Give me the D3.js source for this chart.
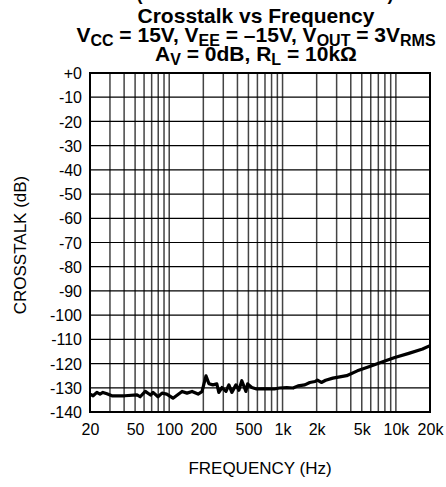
<!DOCTYPE html>
<html><head><meta charset="utf-8">
<script src="https://cdn.jsdelivr.net/npm/d3@7"></script>
<style>
html,body{margin:0;padding:0;background:#fff;}
svg{display:block;font-family:Arial,"Liberation Sans",Helvetica,sans-serif;}
</style></head>
<body>
<svg id="c" width="446" height="487"></svg>
<script>
// ---- data ----
const freqHz = [20,21.3,23,24.5,26,28.2,31.2,40.6,52,55.4,61.5,68.4,72,79.6,86.5,95.1,108,129.8,143.5,159,179.7,194.6,
  211,224,243,263,274,292,317,336,357,388,412,437,475,492,535,590,692,846,940,1089,1237,1370,1572,1740,1935,2029,2200,2400,2780,
  3676,4570,5780,7450,9780,13000,17200,20000];
const crosstalkDb = [-132.6,-133.3,-131.9,-132.6,-131.9,-132.5,-133.3,-133.3,-132.9,-133.7,-131.5,-133,-131.9,-133.7,-132.2,-132.6,-134.3,-131.5,-132.2,-131.5,-132.6,-131.6,
  -125.1,-128.3,-128.8,-128.4,-131.9,-129.9,-131.5,-128.8,-131.9,-128.8,-131,-127.1,-131.5,-128.4,-129.9,-130.5,-130.4,-130.5,-130.1,-129.9,-130.1,-129.2,-128.8,-127.8,-127.4,-126.8,-127.8,-126.9,-126,
  -125,-123,-121.3,-119.5,-117.5,-115.8,-114,-112.6];
const xTickValues = [20,50,100,200,500,1000,2000,5000,10000,20000];
const xTickLabels = ["20","50","100","200","500","1k","2k","5k","10k","20k"];
const yTickValues = [0,-10,-20,-30,-40,-50,-60,-70,-80,-90,-100,-110,-120,-130,-140];
const yTickLabels = ["+0","-10","-20","-30","-40","-50","-60","-70","-80","-90","-100","-110","-120","-130","-140"];
const titleTop = "(Performance Characteristics)";
const titleMain = "Crosstalk vs Frequency";
const xAxisTitle = "FREQUENCY (Hz)";
const yAxisTitle = "CROSSTALK (dB)";

// ---- layout ----
const L = 90, R = 430, T = 73, B = 412;
const svg = d3.select("#c");
const x = d3.scaleLog().domain([20,20000]).range([L,R]);
const y = d3.scaleLinear().domain([-140,0]).range([B,T]);

// vertical grid lines (1..9 x decade)
const vGrid = [];
[10,100,1000,10000].forEach(d=>{for(let k=1;k<10;k++){const v=d*k; if(v>20 && v<20000) vGrid.push(v);}});
svg.append("g").selectAll("line").data(vGrid).join("line")
  .attr("x1",d=>x(d)).attr("x2",d=>x(d)).attr("y1",T).attr("y2",B)
  .attr("stroke","#444").attr("stroke-width",1.5);
// horizontal grid
svg.append("g").selectAll("line").data(yTickValues.filter(v=>v>-140&&v<0)).join("line")
  .attr("x1",L).attr("x2",R).attr("y1",d=>y(d)).attr("y2",d=>y(d))
  .attr("stroke","#000").attr("stroke-width",1.2);

// axes (labels only)
const xAxis = d3.axisBottom(x).tickValues(xTickValues).tickSize(0).tickPadding(0)
  .tickFormat((d,i)=>xTickLabels[i]);
const gx = svg.append("g").attr("transform",`translate(0,${B})`).call(xAxis);
gx.select(".domain").remove();
gx.selectAll("text").attr("dy",null).attr("y",23).attr("font-size",16).attr("fill","#000").attr("font-family","Arial, 'Liberation Sans', sans-serif");

const yAxis = d3.axisLeft(y).tickValues(yTickValues).tickSize(0).tickPadding(8)
  .tickFormat((d,i)=>yTickLabels[i]);
const gy = svg.append("g").attr("transform",`translate(${L},0)`).call(yAxis);
gy.select(".domain").remove();
gy.selectAll("text").attr("dy","0.35em").attr("font-size",16).attr("fill","#000").attr("font-family","Arial, 'Liberation Sans', sans-serif");

// border
svg.append("rect").attr("x",L).attr("y",T).attr("width",R-L).attr("height",B-T)
  .attr("fill","none").attr("stroke","#000").attr("stroke-width",2);

// curve
const pts = freqHz.map((f,i)=>[f,crosstalkDb[i]]);
svg.append("path").datum(pts)
  .attr("d",d3.line().x(d=>x(d[0])).y(d=>y(d[1])))
  .attr("fill","none").attr("stroke","#000").attr("stroke-width",3.2).attr("stroke-linejoin","round");

// axis titles
svg.append("text").attr("x",260).attr("y",474).attr("text-anchor","middle")
  .attr("font-size",17).text(xAxisTitle);
svg.append("text").attr("transform","translate(26,245) rotate(-90)").attr("text-anchor","middle")
  .attr("font-size",17).text(yAxisTitle);

// titles
const cx = 256;
svg.append("text").attr("x",265).attr("y",0).attr("text-anchor","middle")
  .attr("font-size",18).attr("font-weight","bold").text(titleTop);
svg.append("text").attr("x",cx).attr("y",23).attr("text-anchor","middle")
  .attr("font-size",21).attr("font-weight","bold").text(titleMain);
const t2 = svg.append("text").attr("x",cx).attr("y",42).attr("text-anchor","middle")
  .attr("font-size",21).attr("font-weight","bold");
const seg2 = [["V",0],["CC",1],[" = 15V, V",0],["EE",1],[" = \u201315V, V",0],["OUT",1],[" = 3V",0],["RMS",1]];
let prev=0;
seg2.forEach(([s,sub])=>{
  const dy = sub? (prev?0:4) : (prev?-4:0);
  t2.append("tspan").attr("dy",dy).attr("font-size",sub?16:21).text(s);
  prev=sub;
});
const t3 = svg.append("text").attr("x",cx).attr("y",61).attr("text-anchor","middle")
  .attr("font-size",21).attr("font-weight","bold");
const seg3 = [["A",0],["V",1],[" = 0dB, R",0],["L",1],[" = 10k\u03A9",0]];
prev=0;
seg3.forEach(([s,sub])=>{
  const dy = sub? (prev?0:4) : (prev?-4:0);
  t3.append("tspan").attr("dy",dy).attr("font-size",sub?16:21).text(s);
  prev=sub;
});
</script>
</body></html>
